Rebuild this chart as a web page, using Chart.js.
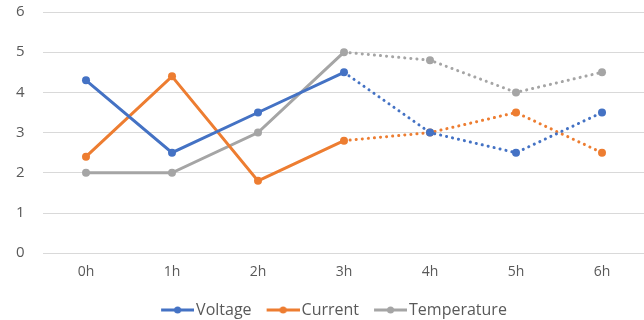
<!DOCTYPE html>
<html>
<head>
<meta charset="utf-8">
<script src="https://cdn.jsdelivr.net/npm/chart.js@4.4.1/dist/chart.umd.min.js"></script>
<style>
  html, body { margin: 0; padding: 0; background: #fff; overflow: hidden; }
  #wrap { width: 649px; height: 320px; position: relative; }
</style>
</head>
<body>
<div id="wrap"><canvas id="chart"></canvas></div>
<script>
// Chart data
const hours = ['0h', '1h', '2h', '3h', '4h', '5h', '6h'];
const voltage = [4.3, 2.5, 3.5, 4.5, 3.0, 2.5, 3.5];
const current = [2.4, 4.4, 1.8, 2.8, 3.0, 3.5, 2.5];
const temperature = [2.0, 2.0, 3.0, 5.0, 4.8, 4.0, 4.5];
const yTicks = [0, 1, 2, 3, 4, 5, 6];

// segments after 3h are drawn dotted
const dottedFrom = 3;
const fontFamily = '"Open Sans", "Liberation Sans", sans-serif';

// legend marker: short line with a dot in the middle (shifted right toward the text)
function legendMarker(color) {
    const c = document.createElement('canvas');
    c.width = 42;
    c.height = 10;
    const g = c.getContext('2d');
    g.strokeStyle = color;
    g.lineWidth = 3;
    g.beginPath();
    g.moveTo(9, 5);
    g.lineTo(42, 5);
    g.stroke();
    g.fillStyle = color;
    g.beginPath();
    g.arc(25.5, 5, 3.5, 0, Math.PI * 2);
    g.fill();
    return c;
}

function makeSeries(label, values, color) {
    return {
        label: label,
        data: values,
        borderColor: color,
        backgroundColor: color,
        borderWidth: 3,
        pointRadius: 4,
        pointHoverRadius: 4,
        pointBorderWidth: 0,
        tension: 0,
        borderCapStyle: 'round',
        pointStyle: 'circle',
        legendMarker: legendMarker(color),
        segment: {
            borderDash: ctx => ctx.p0DataIndex >= dottedFrom ? [0.1, 6] : undefined
        }
    };
}

new Chart(document.getElementById('chart'), {
    type: 'line',
    data: {
        labels: hours,
        datasets: [
            makeSeries('Voltage', voltage, '#4472C4'),
            makeSeries('Current', current, '#ED7D31'),
            makeSeries('Temperature', temperature, '#A5A5A5')
        ]
    },
    options: {
        responsive: true,
        maintainAspectRatio: false,
        animation: false,
        layout: {
            padding: { top: 0, right: 0, bottom: -8, left: 16 }
        },
        plugins: {
            tooltip: { enabled: false },
            legend: {
                position: 'bottom',
                labels: {
                    usePointStyle: true,
                    pointStyleWidth: 30,
                    color: '#595959',
                    font: { family: fontFamily, size: 16 },
                    padding: 12,
                    generateLabels: chart => chart.data.datasets.map((ds, i) => ({
                        text: ds.label,
                        pointStyle: ds.legendMarker,
                        fillStyle: ds.borderColor,
                        strokeStyle: ds.borderColor,
                        fontColor: '#595959',
                        lineWidth: 0,
                        hidden: false,
                        datasetIndex: i
                    }))
                }
            }
        },
        scales: {
            x: {
                offset: true,
                grid: { display: false, offset: true, drawTicks: false },
                border: { display: false },
                ticks: {
                    color: '#595959',
                    font: { family: fontFamily, size: 14 },
                    padding: 10
                }
            },
            y: {
                min: 0,
                max: 6,
                afterBuildTicks: axis => {
                    axis.ticks = yTicks.map(v => ({ value: v }));
                },
                afterFit: axis => {
                    axis.width = 27;
                },
                grid: { color: '#D9D9D9', lineWidth: 1, drawTicks: false },
                border: { display: false },
                ticks: {
                    color: '#595959',
                    font: { family: fontFamily, size: 15 },
                    crossAlign: 'far',
                    padding: 3
                }
            }
        }
    }
});
</script>
</body>
</html>
